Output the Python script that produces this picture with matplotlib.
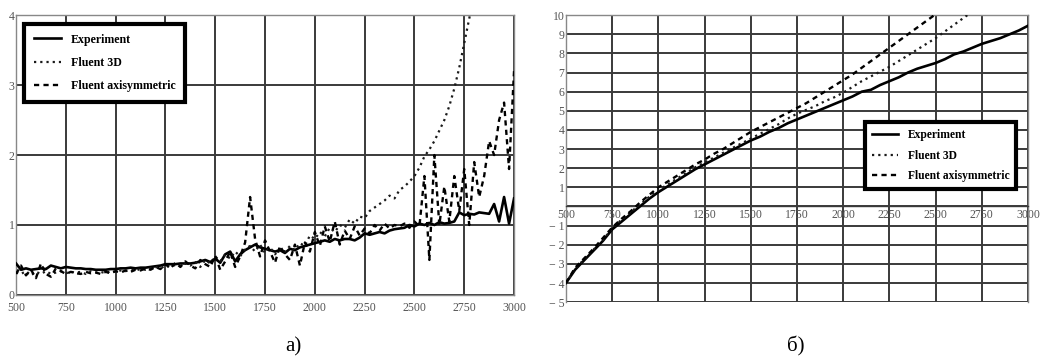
import numpy as np
import matplotlib
matplotlib.use('Agg')
import matplotlib.pyplot as plt

plt.rcParams['font.family'] = ['Liberation Serif', 'DejaVu Serif']

# ---- panel a) ----
a_exp_x = np.arange(500, 3001, 25)
a_exp_y = [0.45, 0.36, 0.38, 0.36, 0.37, 0.38, 0.37, 0.42, 0.40, 0.38,
           0.40, 0.39, 0.38, 0.38, 0.37, 0.37, 0.36, 0.36, 0.36, 0.37,
           0.37, 0.38, 0.38, 0.39, 0.38, 0.39, 0.39, 0.40, 0.41, 0.42,
           0.44, 0.44, 0.44, 0.45, 0.45, 0.45, 0.46, 0.48, 0.50, 0.47,
           0.52, 0.46, 0.58, 0.62, 0.48, 0.58, 0.64, 0.68, 0.72, 0.68,
           0.66, 0.64, 0.62, 0.64, 0.60, 0.66, 0.64, 0.68, 0.70, 0.72,
           0.74, 0.76, 0.78, 0.76, 0.80, 0.78, 0.80, 0.80, 0.78, 0.82,
           0.88, 0.86, 0.88, 0.90, 0.88, 0.92, 0.94, 0.95, 0.96, 1.00,
           0.98, 1.02, 1.00, 1.03, 1.00, 1.04, 1.02, 1.03, 1.05, 1.18,
           1.14, 1.16, 1.15, 1.18, 1.17, 1.16, 1.30, 1.05, 1.40, 1.02,
           1.38]

a_3d_x = np.arange(500, 2801, 25)
a_3d_y = [0.32, 0.30, 0.34, 0.28, 0.33, 0.30, 0.34, 0.30, 0.32, 0.34,
          0.31, 0.33, 0.32, 0.33, 0.30, 0.34, 0.32, 0.33, 0.31, 0.34,
          0.33, 0.35, 0.34, 0.36, 0.35, 0.37, 0.36, 0.38, 0.40, 0.38,
          0.42, 0.40, 0.43, 0.41, 0.45, 0.42, 0.47, 0.40, 0.50, 0.45,
          0.55, 0.48, 0.58, 0.52, 0.62, 0.55, 0.66, 0.70, 0.62, 0.72,
          0.60, 0.68, 0.58, 0.66, 0.62, 0.70, 0.64, 0.74, 0.70, 0.85,
          0.80, 0.90, 0.84, 0.96, 0.90, 1.00, 0.96, 1.08, 1.02, 1.12,
          1.10, 1.20, 1.25, 1.30, 1.35, 1.42, 1.38, 1.50, 1.55, 1.62,
          1.70, 1.82, 1.98, 2.08, 2.20, 2.35, 2.50, 2.70, 2.95, 3.25,
          3.60, 3.95, 4.30]

a_axi_x = np.arange(500, 3001, 25)
a_axi_y = [0.30, 0.42, 0.28, 0.36, 0.24, 0.45, 0.30, 0.26, 0.38, 0.34,
           0.30, 0.33, 0.31, 0.30, 0.33, 0.31, 0.32, 0.30, 0.33, 0.31,
           0.34, 0.32, 0.35, 0.33, 0.36, 0.35, 0.38, 0.36, 0.40, 0.37,
           0.44, 0.38, 0.46, 0.40, 0.48, 0.42, 0.38, 0.50, 0.44, 0.40,
           0.56, 0.36, 0.48, 0.62, 0.40, 0.55, 0.75, 1.40, 0.80, 0.55,
           0.78, 0.62, 0.46, 0.70, 0.58, 0.50, 0.72, 0.42, 0.75, 0.62,
           0.90, 0.70, 0.98, 0.76, 1.05, 0.72, 0.92, 0.80, 0.98, 0.85,
           0.95, 0.88, 1.00, 0.92, 1.02, 0.95, 1.00, 0.98, 1.02, 0.96,
           1.05, 0.98, 1.70, 0.50, 2.00, 1.00, 1.55, 1.05, 1.70, 1.20,
           1.80, 1.00, 1.90, 1.40, 1.70, 2.20, 2.00, 2.50, 2.75, 1.80,
           3.20]

# ---- panel б) ----
b_exp_x = np.arange(500, 3001, 50)
b_exp_y = [-4.0, -3.3, -2.8, -2.3, -1.8, -1.2, -0.8, -0.4, 0.0, 0.4,
           0.75, 1.05, 1.35, 1.65, 1.95, 2.2, 2.45, 2.7, 2.95, 3.2,
           3.45, 3.65, 3.9, 4.1, 4.35, 4.55, 4.75, 4.95, 5.15, 5.35,
           5.55, 5.75, 6.0, 6.1, 6.35, 6.55, 6.75, 7.0, 7.2, 7.35,
           7.5, 7.7, 7.95, 8.1, 8.3, 8.5, 8.65, 8.8, 9.0, 9.2,
           9.45]

b_3d_x = np.arange(500, 2701, 50)
b_3d_y = [-4.0, -3.25, -2.75, -2.25, -1.75, -1.15, -0.7, -0.3, 0.1, 0.5,
          0.85, 1.15, 1.45, 1.75, 2.05, 2.3, 2.55, 2.8, 3.05, 3.3,
          3.55, 3.8, 4.05, 4.3, 4.6, 4.85, 5.05, 5.25, 5.5, 5.7,
          5.95, 6.25, 6.55, 6.8, 7.05, 7.3, 7.6, 7.9, 8.2, 8.5,
          8.8, 9.15, 9.5, 9.85, 10.2]

b_axi_x = np.arange(500, 2501, 50)
b_axi_y = [-4.0, -3.2, -2.7, -2.2, -1.65, -1.1, -0.65, -0.25, 0.2, 0.6,
           1.0, 1.3, 1.6, 1.9, 2.2, 2.45, 2.75, 3.0, 3.3, 3.6,
           3.9, 4.15, 4.4, 4.65, 4.9, 5.15, 5.4, 5.7, 6.0, 6.3,
           6.6, 6.9, 7.25, 7.6, 7.95, 8.3, 8.65, 9.0, 9.35, 9.7,
           10.05]

x_ticks = [500, 750, 1000, 1250, 1500, 1750, 2000, 2250, 2500, 2750, 3000]
labels = ['Experiment', 'Fluent 3D', 'Fluent axisymmetric']

fig = plt.figure(figsize=(10.48, 3.61), dpi=100)
ax1 = fig.add_axes([0.0153, 0.183, 0.4752, 0.775])
ax2 = fig.add_axes([0.540, 0.163, 0.441, 0.795])

grid_kw = dict(color='#3a3a3a', linewidth=1.4)


def draw(ax, exp_x, exp_y, d3_x, d3_y, axi_x, axi_y):
    ax.plot(exp_x, exp_y, color='black', lw=1.9, label=labels[0], zorder=3)
    ax.plot(d3_x, d3_y, color='#1a1a1a', lw=1.6, ls=(0, (1, 1.8)), label=labels[1], zorder=3)
    ax.plot(axi_x, axi_y, color='black', lw=1.7, ls=(0, (2.2, 1.8)), label=labels[2], zorder=3)
    ax.set_xlim(500, 3000)
    ax.set_xticks(x_ticks)
    ax.grid(True, **grid_kw)
    ax.set_axisbelow(True)
    for s in ax.spines.values():
        s.set_color('#888888')
        s.set_linewidth(1)
    ax.tick_params(labelsize=8.5, labelcolor='#555555', length=0, pad=2)


draw(ax1, a_exp_x, a_exp_y, a_3d_x, a_3d_y, a_axi_x, a_axi_y)
ax1.set_ylim(0, 4)
ax1.set_yticks([0, 1, 2, 3, 4])
ax1.tick_params(axis='y', pad=1)
ax1.tick_params(axis='x', pad=5)
leg1 = ax1.legend(loc='upper left', bbox_to_anchor=(0.016, 0.968), borderaxespad=0,
                  handlelength=2.3, labelspacing=0.95, fancybox=False,
                  framealpha=1, edgecolor='black', borderpad=0.8,
                  prop={'weight': 'bold', 'size': 8.6})
leg1.get_frame().set_linewidth(3)

draw(ax2, b_exp_x, b_exp_y, b_3d_x, b_3d_y, b_axi_x, b_axi_y)
ax2.set_ylim(-5, 10)
y2 = list(range(-5, 11))
ax2.set_yticks(y2)
ax2.set_yticklabels([('\u2212 %d' % -v) if v < 0 else ('' if v == 0 else str(v)) for v in y2])
ax2.spines['bottom'].set_position(('data', 0))
ax2.spines['bottom'].set_color('#3a3a3a')
ax2.tick_params(axis='y', pad=1)
leg2 = ax2.legend(loc='upper left', bbox_to_anchor=(0.647, 0.627), borderaxespad=0,
                  handlelength=2.3, labelspacing=0.75, fancybox=False,
                  framealpha=1, edgecolor='black', borderpad=0.6,
                  prop={'weight': 'bold', 'size': 8.3})
leg2.get_frame().set_linewidth(3)

fig.text(0.28, 0.025, 'a)', fontsize=15, ha='center')
fig.text(0.759, 0.025, 'б)', fontsize=15, ha='center')

fig.savefig('out.png', dpi=100, facecolor='white')
